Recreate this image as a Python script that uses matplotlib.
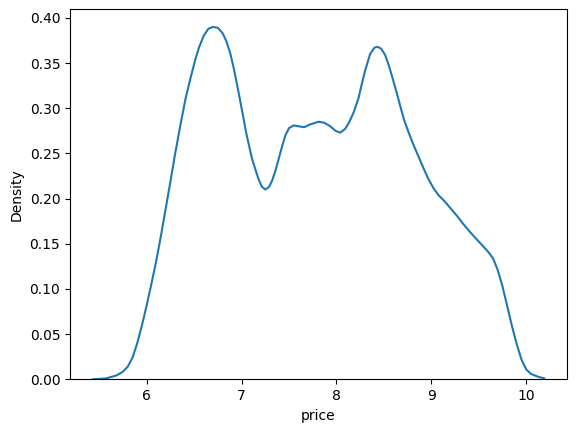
"""
plot.py

Density curve of (log) price, redrawn from values read off the original
seaborn kdeplot.
"""

import matplotlib.pyplot as plt

# ────────────────────────── Data ────────────────────────── #
price = [
    5.429, 5.569, 5.674, 5.744, 5.800, 5.850, 5.900, 5.950, 6.000, 6.050,
    6.100, 6.150, 6.200, 6.250, 6.300, 6.358, 6.410, 6.463, 6.510, 6.550,
    6.600, 6.650, 6.697, 6.750, 6.800, 6.840, 6.880, 6.920, 6.960, 7.000,
    7.050, 7.110, 7.180, 7.215, 7.251, 7.290, 7.322, 7.360, 7.391, 7.430,
    7.462, 7.500, 7.549, 7.600, 7.660, 7.720, 7.812, 7.870, 7.935, 7.990,
    8.040, 8.090, 8.127, 8.180, 8.232, 8.270, 8.303, 8.355, 8.400, 8.432,
    8.470, 8.513, 8.550, 8.584, 8.630, 8.671, 8.710, 8.758, 8.810, 8.863,
    8.920, 8.968, 9.020, 9.074, 9.140, 9.197, 9.270, 9.336, 9.400, 9.477,
    9.540, 9.600, 9.650, 9.700, 9.750, 9.800, 9.850, 9.900, 9.950, 10.000,
    10.050, 10.120, 10.190,
]
density = [
    0.000, 0.001, 0.004, 0.008, 0.014, 0.024, 0.040, 0.060, 0.082, 0.106,
    0.131, 0.159, 0.189, 0.219, 0.250, 0.283, 0.311, 0.334, 0.353, 0.367,
    0.380, 0.388, 0.390, 0.389, 0.383, 0.374, 0.361, 0.343, 0.322, 0.300,
    0.272, 0.244, 0.221, 0.213, 0.210, 0.213, 0.220, 0.232, 0.244, 0.259,
    0.270, 0.278, 0.281, 0.280, 0.279, 0.282, 0.285, 0.284, 0.280, 0.275,
    0.273, 0.277, 0.283, 0.295, 0.311, 0.328, 0.342, 0.360, 0.367, 0.368,
    0.366, 0.359, 0.348, 0.336, 0.319, 0.303, 0.288, 0.274, 0.260, 0.247,
    0.233, 0.222, 0.212, 0.204, 0.197, 0.190, 0.181, 0.172, 0.164, 0.155,
    0.148, 0.141, 0.134, 0.121, 0.103, 0.081, 0.059, 0.039, 0.022, 0.011,
    0.006, 0.003, 0.001,
]


def main() -> None:
    fig = plt.figure(figsize=(5.76, 4.32), dpi=100)
    fig.subplots_adjust(left=0.1215, right=0.984, bottom=0.122, top=0.9785)
    ax = fig.add_subplot(111)

    ax.plot(price, density, color="#1f77b4", linewidth=1.5)
    ax.set_ylim(bottom=0)
    ax.set_xlabel("price")
    ax.set_ylabel("Density")

    fig.savefig("out.png", dpi=100)
    plt.close(fig)


if __name__ == "__main__":
    main()
